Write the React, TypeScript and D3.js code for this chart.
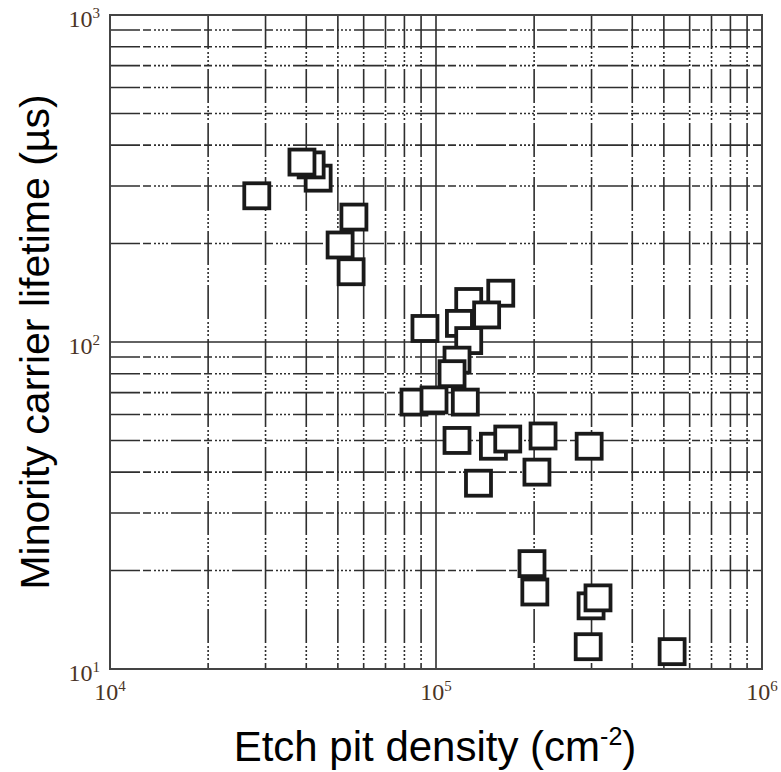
import React from 'react';
import * as d3 from 'd3';

// Axis decades (powers of ten)
const xDecades = [4, 5, 6];
const yDecades = [1, 2, 3];

// Etch pit density (cm^-2) for each wafer sample
const etchPitDensity = [
  28200, 43500, 41400, 38800, 56000, 50800, 54900,
  158000, 126000, 143000, 92500, 118000, 126000, 116000, 112000,
  85600, 98600, 123000, 116000, 150000, 166000, 213000, 295000,
  204000, 135000, 197000, 201000, 299000, 314000, 293000, 530000,
];

// Minority carrier lifetime (µs) for each wafer sample
const lifetime = [
  280, 317, 348, 355, 241, 198, 164,
  141, 133, 121, 110, 114, 101, 88, 80,
  65.5, 66.5, 65.5, 50, 48, 50.5, 51.6, 48,
  40, 37, 21, 17.2, 15.6, 16.5, 11.7, 11.3,
];

const W = 781;
const H = 772;
const left = 110;
const right = 762;
const top = 15;
const bottom = 669;

export default function App() {
  const x = d3.scaleLog().domain([1e4, 1e6]).range([left, right]);
  const y = d3.scaleLog().domain([10, 1000]).range([bottom, top]);

  const decadeSteps = (lo: number, hi: number) => {
    const vals: number[] = [];
    for (let e = lo; e < hi; e++) {
      for (let m = 1; m <= 9; m++) vals.push(m * Math.pow(10, e));
    }
    return vals;
  };
  const xGrid = decadeSteps(4, 6).filter((v) => v > 1e4);
  const yGrid = decadeSteps(1, 3).filter((v) => v > 10);
  const isMajor = (v: number) => Math.abs(Math.log10(v) - Math.round(Math.log10(v))) < 1e-9;

  const gridColor = '#2e2e2e';
  const hDash = '30 3 8 3 2 2 2 2 2 2 2 3';
  const vDash = '34 3 2 2 2 2 2 2 2 3';
  const tickColor = '#4a3426';
  const side = 25;

  const points = etchPitDensity.map((d, i) => ({ d, t: lifetime[i] }));

  return (
    <svg
      width={W}
      height={H}
      style={{ position: 'absolute', left: 0, top: 0, background: '#fff' }}
    >
      <rect x={0} y={0} width={W} height={H} fill="#fff" />
      <g>
        {yGrid.map((v) => (
          <line
            key={'h' + v}
            x1={left}
            x2={right}
            y1={y(v)}
            y2={y(v)}
            stroke={gridColor}
            strokeWidth={1.6}
            strokeDasharray={isMajor(v) ? undefined : hDash}
          />
        ))}
        {xGrid.map((v) => (
          <line
            key={'v' + v}
            x1={x(v)}
            x2={x(v)}
            y1={top}
            y2={bottom}
            stroke={gridColor}
            strokeWidth={1.6}
            strokeDasharray={isMajor(v) ? undefined : vDash}
          />
        ))}
      </g>
      <rect
        x={left}
        y={top}
        width={right - left}
        height={bottom - top}
        fill="none"
        stroke="#444"
        strokeWidth={2}
      />
      <g>
        {points.map((p, i) => (
          <rect
            key={i}
            x={x(p.d) - side / 2}
            y={y(p.t) - side / 2}
            width={side}
            height={side}
            fill="#fff"
            stroke="#1a1a1a"
            strokeWidth={3.8}
          />
        ))}
      </g>
      <g fontFamily="'Liberation Serif', 'Times New Roman', serif" fill={tickColor}>
        {xDecades.map((e) => (
          <text key={'xt' + e} x={x(Math.pow(10, e))} y={700} fontSize={24} textAnchor="middle">
            10<tspan dy={-9} fontSize={15}>{e}</tspan>
          </text>
        ))}
        {yDecades.map((e) => (
          <text key={'yt' + e} x={100} y={y(Math.pow(10, e)) + 12} fontSize={24} textAnchor="end">
            10<tspan dy={-9} fontSize={15}>{e}</tspan>
          </text>
        ))}
      </g>
      <g fontFamily="'Liberation Sans', Arial, sans-serif" fill="#000">
        <text x={435} y={761} fontSize={42} textAnchor="middle">
          Etch pit density (cm<tspan dy={-16} fontSize={25}>-2</tspan><tspan dy={16}>)</tspan>
        </text>
        <text
          transform={`translate(49, ${(top + bottom) / 2}) rotate(-90)`}
          fontSize={41}
          textAnchor="middle"
        >
          Minority carrier lifetime (µs)
        </text>
      </g>
    </svg>
  );
}
